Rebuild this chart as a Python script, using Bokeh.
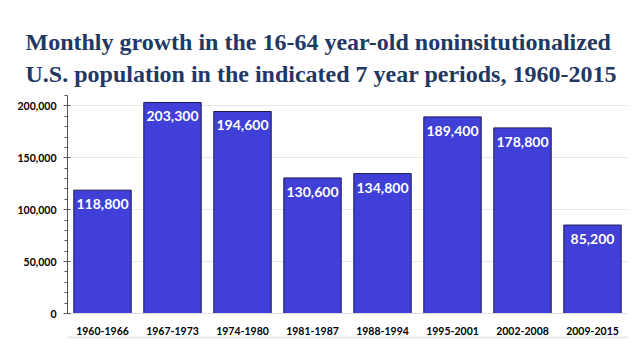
from bokeh.plotting import figure
from bokeh.models import (ColumnDataSource, Title, NumeralTickFormatter, FixedTicker,
                          CategoricalAxis)
from bokeh.core.properties import value
from bokeh.embed import file_html
from bokeh.resources import INLINE

periods = ["1960-1966", "1967-1973", "1974-1980", "1981-1987",
           "1988-1994", "1995-2001", "2002-2008", "2009-2015"]
growth = [118800, 203300, 194600, 130600, 134800, 189400, 178800, 85200]
labels = [f"{v:,}" for v in growth]
title_lines = ["Monthly growth in the 16-64 year-old noninsitutionalized",
               "U.S. population in the indicated 7 year periods, 1960-2015"]

src = ColumnDataSource(dict(period=periods, growth=growth, label=labels))

p = figure(width=632, height=352, x_range=periods, y_range=(0, 210000),
           output_backend="svg", toolbar_location=None,
           min_border_left=67, min_border_right=5, min_border_top=95, min_border_bottom=39)

# spacer closest to the frame, then the two title lines
p.add_layout(Title(text=" ", text_font_size="1px", standoff=3), "above")
for line, so in zip(reversed(title_lines), [5, 3]):
    p.add_layout(Title(text=line, align="left", offset=-42,
                       text_font="Liberation Serif", text_font_size="24px",
                       text_font_style="bold", text_color="#1f3864", standoff=so), "above")

p.vbar(x="period", top="growth", width=0.82, source=src,
       fill_color="#4040d8", line_color="#1a1a50", line_width=1)
p.text(x="period", y="growth", text="label", source=src, text_align="center",
       text_baseline="top", y_offset=9, text_color="white",
       text_font=value("Lato"), text_font_style="bold", text_font_size="14px")

p.outline_line_color = None
p.xgrid.grid_line_color = None
p.ygrid.grid_line_color = "#e6e6e6"
p.yaxis.ticker = FixedTicker(ticks=[0, 50000, 100000, 150000, 200000],
                             minor_ticks=list(range(0, 210001, 10000)))
p.yaxis.formatter = NumeralTickFormatter(format="0,0")
p.yaxis.major_label_text_font = "Lato"
p.yaxis.major_label_text_font_style = "bold"
p.yaxis.major_label_text_font_size = "10.5px"
p.yaxis.major_label_text_color = "black"
p.yaxis.major_label_standoff = 7
p.yaxis.axis_line_color = "#555555"
p.yaxis.major_tick_line_color = "#555555"
p.yaxis.minor_tick_line_color = "#555555"
p.yaxis.major_tick_in = 3
p.yaxis.major_tick_out = 4
p.yaxis.minor_tick_in = 0
p.yaxis.minor_tick_out = 3

p.xaxis.axis_line_color = "#dddddd"
p.xaxis.major_tick_line_color = None
p.xaxis.minor_tick_line_color = None
p.xaxis.major_label_text_font = "Lato"
p.xaxis.major_label_text_font_style = "bold"
p.xaxis.major_label_text_font_size = "10.5px"
p.xaxis.major_label_text_color = "black"
p.xaxis.major_label_standoff = 7

# light separator line below the category labels
sep = CategoricalAxis(ticker=FixedTicker(ticks=[]),
                      axis_line_color="#e8e8e8", axis_line_width=2,
                      major_label_standoff=0, major_label_text_font_size="1px",
                      major_tick_line_color=None, minor_tick_line_color=None)
p.add_layout(sep, "below")

open("out.html", "w").write(file_html(p, INLINE))
